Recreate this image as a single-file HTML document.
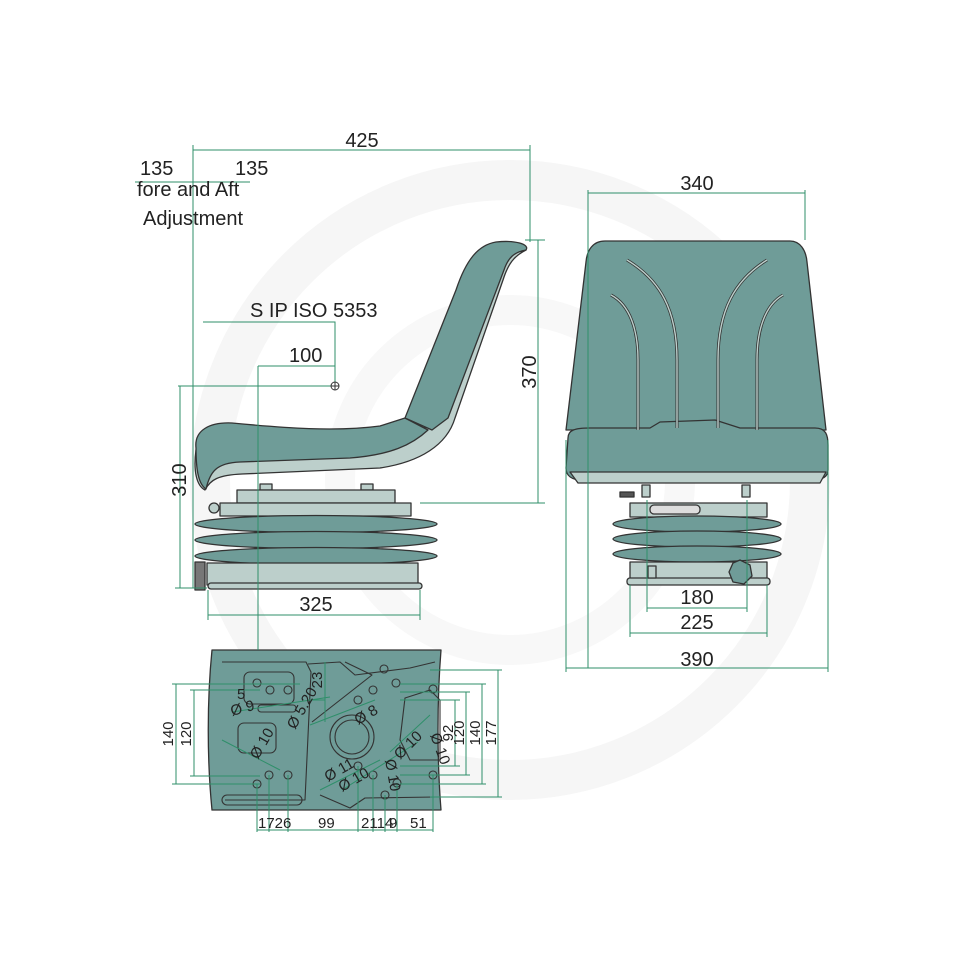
<!DOCTYPE html>
<html><head><meta charset="utf-8"><style>html,body{margin:0;padding:0;background:#fff}svg{display:block}</style></head><body>
<svg width="960" height="960" viewBox="0 0 960 960" xmlns="http://www.w3.org/2000/svg" font-family="Liberation Sans, sans-serif">
<rect width="960" height="960" fill="#fff"/>
<!-- watermark -->
<circle cx="510" cy="480" r="300" fill="none" stroke="#f6f6f6" stroke-width="40"/>
<circle cx="510" cy="480" r="170" fill="none" stroke="#f8f8f8" stroke-width="30"/>

<g stroke="#333" stroke-width="1.3" stroke-linejoin="round">
<!-- side view shell -->
<path d="M526,250 C514,256 508,264 503,280 L455,418 C447,445 420,462 380,468 L242,474 C218,475 210,480 205,490 C197,486 193,472 196,450 L200,440 L240,455 L380,440 L420,430 L440,420 L505,255 Z" fill="#bccfcb"/>
<path d="M196,448 C194,430 210,422 232,423 C285,428 335,432 380,426 L405,418 L428,430 C412,445 390,455 350,458 L240,462 C216,463 210,472 206,489 C198,484 196,468 196,448 Z" fill="#6f9c98"/>
<path d="M405,418 L456,290 C466,260 478,245 496,242 C515,240 530,244 526,250 C514,252 508,258 504,270 L448,418 L432,430 Z" fill="#6f9c98"/>
<rect x="260" y="484" width="12" height="6" fill="#bccfcb"/>
<rect x="361" y="484" width="12" height="6" fill="#bccfcb"/>
<rect x="237" y="490" width="158" height="13" fill="#bccfcb"/>
<rect x="220" y="503" width="191" height="13" fill="#bccfcb"/>
<ellipse cx="316" cy="524" rx="121" ry="8.5" fill="#6f9c98"/>
<ellipse cx="316" cy="540" rx="121" ry="8.5" fill="#6f9c98"/>
<ellipse cx="316" cy="556" rx="121" ry="8.5" fill="#6f9c98"/>
<rect x="207" y="563" width="211" height="22" fill="#bccfcb"/>
<rect x="208" y="583" width="214" height="6" rx="3" fill="#bccfcb"/>
<rect x="195" y="562" width="10" height="28" fill="#777"/>
<circle cx="214" cy="508" r="5" fill="#bccfcb"/>

<!-- front view -->
<path d="M605,241 L790,241 C800,241 806,250 807,262 L826,430 L566,430 L586,262 C587,250 593,241 605,241 Z" fill="#6f9c98"/>
<path d="M568,438 C568,430 575,428 590,428 L650,428 L660,422 L715,420 L740,428 L815,428 C826,428 828,435 828,445 L828,470 C828,477 822,480 812,480 L582,480 C572,480 566,476 566,468 Z" fill="#6f9c98"/>
<path d="M570,472 L826,472 L820,483 L578,483 Z" fill="#bccfcb"/>
<g fill="none" stroke="#333" stroke-width="3">
<path d="M627,260 C660,280 677,310 677,360 L677,428"/>
<path d="M611,295 C630,305 638,330 638,360 L638,430"/>
<path d="M767,260 C735,280 718,310 718,360 L718,428"/>
<path d="M783,295 C765,305 757,330 757,360 L757,430"/>
</g>
<g fill="none" stroke="#bccfcb" stroke-width="1.4">
<path d="M627,260 C660,280 677,310 677,360 L677,428"/>
<path d="M611,295 C630,305 638,330 638,360 L638,430"/>
<path d="M767,260 C735,280 718,310 718,360 L718,428"/>
<path d="M783,295 C765,305 757,330 757,360 L757,430"/>
</g>
<rect x="642" y="485" width="8" height="12" fill="#bccfcb"/>
<rect x="742" y="485" width="8" height="12" fill="#bccfcb"/>
<rect x="620" y="492" width="14" height="5" fill="#555"/>
<rect x="630" y="503" width="137" height="14" fill="#bccfcb"/>
<rect x="650" y="505" width="50" height="9" rx="4" fill="#ddd"/>
<ellipse cx="697" cy="524" rx="84" ry="8" fill="#6f9c98"/>
<ellipse cx="697" cy="539" rx="84" ry="8" fill="#6f9c98"/>
<ellipse cx="697" cy="554" rx="84" ry="8" fill="#6f9c98"/>
<rect x="630" y="562" width="137" height="20" fill="#bccfcb"/>
<rect x="627" y="578" width="143" height="7" rx="3" fill="#bccfcb"/>
<rect x="648" y="566" width="8" height="12" fill="#bccfcb"/>
<polygon points="740,560 750,565 752,576 744,584 733,582 729,572 733,563" fill="#6f9c98"/>

<!-- plan view -->
<path d="M212,650 L441,650 C437,700 437,760 441,810 L212,810 C207,760 207,700 212,650 Z" fill="#6f9c98"/>
<g fill="none" stroke-width="1.1">
<path d="M222,662 L306,662 L311,672 L305,800 L225,800"/>
<path d="M308,664 L340,662 L355,675 L410,668 L435,662"/>
<path d="M345,662 L372,675 L312,722"/>
<path d="M320,795 L350,808 L365,798 L435,797"/>
<path d="M405,698 L430,690 L440,700 L440,760 L410,760 L400,740 Z"/>
<rect x="244" y="672" width="50" height="32" rx="6"/>
<rect x="238" y="723" width="38" height="30" rx="6"/>
<rect x="258" y="705" width="38" height="7" rx="3"/>
<rect x="222" y="795" width="80" height="10" rx="5"/>
<circle cx="352" cy="737" r="22"/><circle cx="352" cy="737" r="17"/>
<circle cx="257" cy="683" r="4"/><circle cx="270" cy="690" r="4"/><circle cx="288" cy="690" r="4"/>
<circle cx="257" cy="784" r="4"/><circle cx="269" cy="775" r="4"/><circle cx="288" cy="775" r="4"/>
<circle cx="384" cy="669" r="4"/><circle cx="396" cy="683" r="4"/><circle cx="373" cy="690" r="4"/>
<circle cx="433" cy="689" r="4"/><circle cx="358" cy="700" r="4"/>
<circle cx="358" cy="766" r="4"/><circle cx="373" cy="775" r="4"/><circle cx="397" cy="783" r="4"/>
<circle cx="385" cy="795" r="4"/><circle cx="433" cy="775" r="4"/>
</g>
</g>

<!-- dimension lines -->
<g stroke="#2f8f6a" stroke-width="1" fill="none">
<path d="M193,150 L530,150 M193,145 L193,588 M530,145 L530,242"/>
<path d="M135,182 L250,182"/>
<path d="M203,322 L335,322 L335,384 M258,366 L335,366 M258,366 L258,650"/>
<path d="M178,386 L335,386 M180,386 L180,588 M175,588 L207,588"/>
<path d="M538,240 L538,503 M420,503 L545,503 M525,240 L545,240"/>
<path d="M208,590 L208,620 M420,590 L420,620 M208,615 L420,615"/>
<path d="M588,190 L588,668 M805,190 L805,240 M588,193 L805,193"/>
<path d="M566,440 L566,672 M828,440 L828,672 M566,668 L828,668"/>
<path d="M647,500 L647,612 M747,500 L747,612 M647,608 L747,608"/>
<path d="M630,585 L630,637 M767,585 L767,637 M630,633 L767,633"/>
<path d="M172,684 L300,684 M172,784 L260,784 M176,684 L176,784"/>
<path d="M190,690 L260,690 M190,776 L260,776 M194,690 L194,776"/>
<path d="M400,700 L460,700 M400,766 L460,766 M455,700 L455,766"/>
<path d="M400,692 L470,692 M400,775 L470,775 M466,692 L466,775"/>
<path d="M400,684 L486,684 M400,784 L486,784 M482,684 L482,784"/>
<path d="M430,670 L502,670 M430,797 L502,797 M498,670 L498,797"/>
<path d="M257,784 L257,832 M269,775 L269,832 M288,775 L288,832 M358,766 L358,832 M373,775 L373,832 M385,795 L385,832 M397,783 L397,832 M433,775 L433,832 M257,830 L433,830"/>
<path d="M325,662 L325,722 M308,700 L325,700"/>
<path d="M232,712 L330,697 M222,740 L280,770 M310,725 L375,700 M320,790 L380,760 M342,790 L418,742 M390,752 L430,715"/>
</g>
<circle cx="335" cy="386" r="4" fill="#fff" stroke="#333"/>
<path d="M331,386 L339,386 M335,382 L335,390" stroke="#333"/>

<!-- text -->
<g fill="#222" font-size="20">
<text x="362" y="147" text-anchor="middle">425</text>
<text x="140" y="175">135</text>
<text x="235" y="175">135</text>
<text x="137" y="196">fore and Aft</text>
<text x="143" y="225">Adjustment</text>
<text x="250" y="317">S IP ISO 5353</text>
<text x="289" y="362">100</text>
<text x="316" y="611" text-anchor="middle">325</text>
<text x="697" y="190" text-anchor="middle">340</text>
<text x="697" y="604" text-anchor="middle">180</text>
<text x="697" y="629" text-anchor="middle">225</text>
<text x="697" y="666" text-anchor="middle">390</text>
<text transform="translate(186,480) rotate(-90)" text-anchor="middle">310</text>
<text transform="translate(536,372) rotate(-90)" text-anchor="middle">370</text>
</g>
<g fill="#222" font-size="15">
<text transform="translate(173,734) rotate(-90)" text-anchor="middle">140</text>
<text transform="translate(191,734) rotate(-90)" text-anchor="middle">120</text>
<text transform="translate(453,733) rotate(-90)" text-anchor="middle">92</text>
<text transform="translate(464,733) rotate(-90)" text-anchor="middle">120</text>
<text transform="translate(480,733) rotate(-90)" text-anchor="middle">140</text>
<text transform="translate(496,733) rotate(-90)" text-anchor="middle">177</text>
<text transform="translate(322,680) rotate(-90)" text-anchor="middle">23</text>
<text x="258" y="828">1726</text>
<text x="318" y="828">99</text>
<text x="361" y="828">2114</text>
<text x="389" y="828">9</text>
<text x="410" y="828">51</text>
<text x="237" y="699">5</text>
<text transform="translate(232,716) rotate(-15)">Ø 9</text>
<text transform="translate(295,730) rotate(-60)">Ø 5.20</text>
<text transform="translate(358,725) rotate(-30)">Ø 8</text>
<text transform="translate(258,760) rotate(-60)">Ø 10</text>
<text transform="translate(328,782) rotate(-30)">Ø 11</text>
<text transform="translate(342,792) rotate(-30)">Ø 10</text>
<text transform="translate(385,760) rotate(80)">Ø 10</text>
<text transform="translate(400,760) rotate(-45)">Ø 10</text>
<text transform="translate(430,735) rotate(70)">Ø 10</text>
</g>
</svg>
</body></html>
